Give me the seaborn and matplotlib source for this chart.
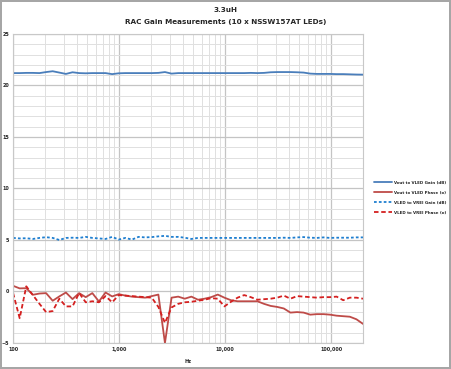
import matplotlib
matplotlib.use("Agg")
import matplotlib.pyplot as plt
import matplotlib.ticker as mticker
import pandas as pd
import seaborn as sns

# frequency points (Hz)
freq = [100, 115.4, 133.2, 153.7, 177.5, 204.8, 236.4, 272.9, 315.0, 363.6,
        419.6, 484.4, 559.1, 645.4, 744.9, 859.9, 992.0, 1145, 1322, 1526,
        1761, 2032, 2346, 2707, 3125, 3607, 4163, 4806, 5546, 6401,
        7389, 8528, 9842, 11360, 13113, 15133, 17468, 20162, 23272, 26861,
        31004, 35783, 41302, 47673, 55025, 63512, 73306, 84613, 97630, 112700,
        130080, 150140, 173300, 200000]

vout_vled_gain = [21.2, 21.2, 21.22, 21.22, 21.2, 21.3, 21.38, 21.25, 21.12, 21.28,
                  21.2, 21.18, 21.2, 21.2, 21.2, 21.1, 21.18, 21.2, 21.2, 21.2,
                  21.2, 21.2, 21.22, 21.3, 21.15, 21.2, 21.2, 21.2, 21.2, 21.2,
                  21.2, 21.2, 21.2, 21.2, 21.2, 21.2, 21.22, 21.2, 21.22, 21.28,
                  21.3, 21.3, 21.3, 21.28, 21.25, 21.15, 21.12, 21.12, 21.12, 21.1,
                  21.1, 21.08, 21.06, 21.05]

vout_vled_phase = [0.55, 0.3, 0.32, -0.32, -0.2, -0.16, -0.9, -0.48, -0.1, -0.74,
                   -0.16, -0.55, -0.16, -0.97, -0.1, -0.48, -0.26, -0.4, -0.5, -0.55,
                   -0.6, -0.45, -0.3, -5.0, -0.6, -0.5, -0.7, -0.5, -0.8, -0.7,
                   -0.55, -0.3, -0.6, -0.85, -0.95, -0.95, -0.95, -0.95, -1.2, -1.4,
                   -1.5, -1.65, -2.05, -2.0, -2.05, -2.25, -2.2, -2.2, -2.25, -2.35,
                   -2.4, -2.45, -2.7, -3.15]

vled_vrei_gain = [5.2, 5.15, 5.17, 5.1, 5.2, 5.27, 5.2, 5.0, 5.2, 5.22,
                  5.2, 5.3, 5.2, 5.15, 5.1, 5.3, 5.04, 5.2, 5.04, 5.3,
                  5.25, 5.28, 5.35, 5.4, 5.3, 5.3, 5.22, 5.1, 5.2, 5.2,
                  5.2, 5.2, 5.2, 5.2, 5.2, 5.2, 5.2, 5.2, 5.2, 5.2,
                  5.2, 5.22, 5.2, 5.25, 5.28, 5.22, 5.2, 5.25, 5.2, 5.22,
                  5.22, 5.22, 5.25, 5.25]

vled_vrei_phase = [-0.15, -2.6, 0.5, -0.35, -1.2, -2.0, -1.9, -0.7, -1.45, -1.45,
                   -0.15, -1.05, -0.95, -1.05, -0.45, -1.05, -0.35, -0.4, -0.45, -0.5,
                   -0.55, -0.6, -1.5, -3.05, -1.55, -1.2, -1.05, -1.0, -0.9, -0.8,
                   -0.65, -0.7, -1.45, -1.0, -0.6, -0.35, -0.55, -0.8, -0.75, -0.7,
                   -0.6, -0.4, -0.7, -0.45, -0.5, -0.55, -0.6, -0.55, -0.55, -0.5,
                   -0.85, -0.6, -0.6, -0.7]

labels = ["Vout to VLED Gain (dB)", "Vout to VLED Phase (o)",
          "VLED to VREI Gain (dB)", "VLED to VREI Phase (o)"]

df = pd.DataFrame({"Hz": freq,
                   labels[0]: vout_vled_gain,
                   labels[1]: vout_vled_phase,
                   labels[2]: vled_vrei_gain,
                   labels[3]: vled_vrei_phase})

sns.set_style("white")
plt.rcParams["font.family"] = ["DejaVu Sans"]

fig = plt.figure(figsize=(4.51, 3.69), dpi=100, edgecolor="#a6a6a6", linewidth=1.5)
ax = fig.add_axes([0.029, 0.0705, 0.776, 0.8375])

colors = ["#4a7ebb", "#be4b48", "#1f7fd0", "#d42020"]
styles = ["-", "-", (0, (1.5, 1.2)), (0, (2.5, 1.5))]
for lab, c, ls in zip(labels, colors, styles):
    sns.lineplot(data=df, x="Hz", y=lab, ax=ax, color=c, linewidth=1.3,
                 linestyle=ls, label=lab, legend=False)

ax.set_xscale("log")
ax.set_xlim(100, 200000)
ax.set_ylim(-5, 25)
ax.set_yticks(range(-5, 26, 5))
ax.yaxis.set_minor_locator(mticker.MultipleLocator(1))
ax.xaxis.set_major_locator(mticker.FixedLocator([100, 1000, 10000, 100000]))
ax.xaxis.set_major_formatter(mticker.FuncFormatter(lambda v, p: f"{int(v):,}"))
ax.xaxis.set_minor_locator(mticker.LogLocator(base=10, subs=range(2, 10)))
ax.xaxis.set_minor_formatter(mticker.NullFormatter())

ax.grid(which="major", color="#c4c4c4", linewidth=0.9)
ax.grid(which="minor", color="#e0e0e0", linewidth=0.7)
ax.set_axisbelow(True)
for s in ax.spines.values():
    s.set_color("#c8c8c8")
    s.set_linewidth(0.8)
ax.tick_params(axis="both", which="both", length=0, labelsize=3.5, pad=3)
for t in ax.get_xticklabels() + ax.get_yticklabels():
    t.set_fontweight("bold")

ax.set_xlabel("Hz", fontsize=3.5, fontweight="bold", labelpad=5)
ax.set_ylabel("")

fig.text(0.5, 0.972, "3.3uH", ha="center", va="center", fontsize=5.2, fontweight="bold")
fig.text(0.5, 0.94, "RAC Gain Measurements (10 x NSSW157AT LEDs)", ha="center",
         va="center", fontsize=5.2, fontweight="bold")

fig.legend(loc="center left", bbox_to_anchor=(0.822, 0.465), frameon=False,
           handlelength=4.5, labelspacing=1.5, handletextpad=0.4,
           prop={"weight": "bold", "size": 2.9})

fig.savefig("out.png", dpi=100, edgecolor=fig.get_edgecolor())
